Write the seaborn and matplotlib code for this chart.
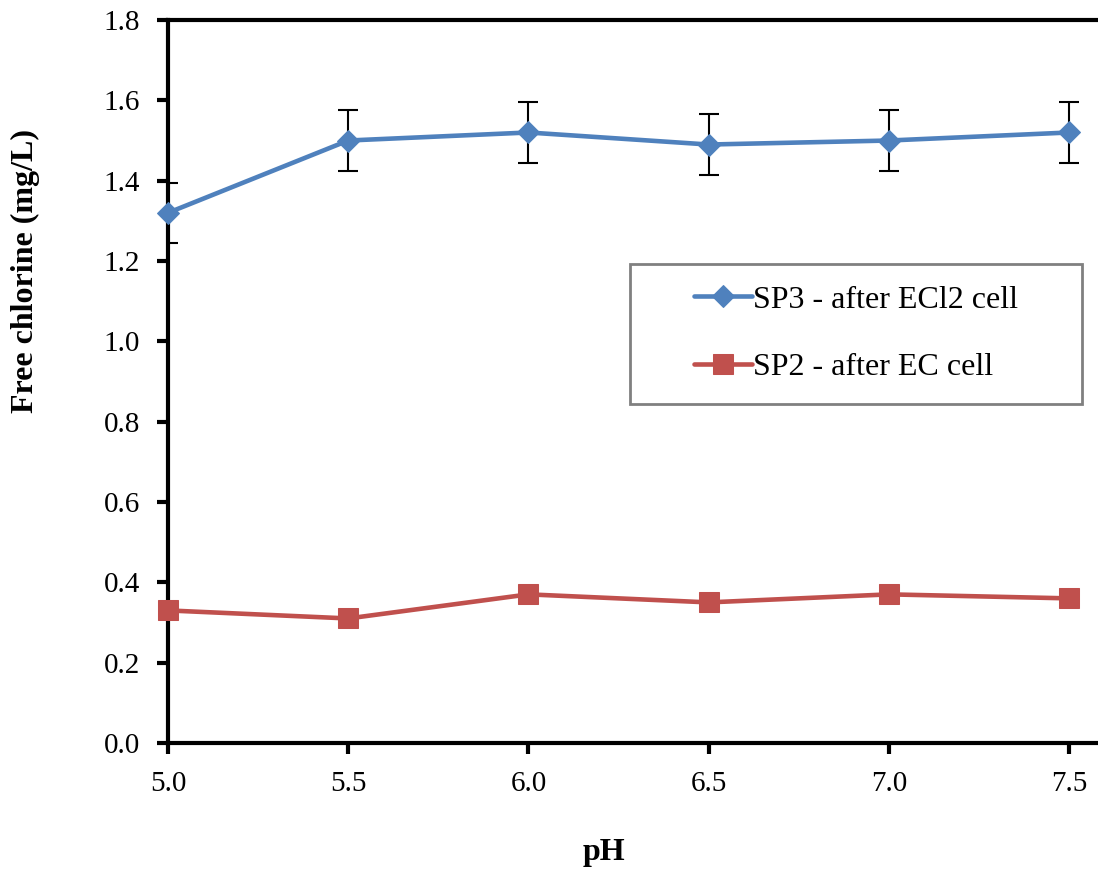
import matplotlib
matplotlib.use("Agg")
import matplotlib.pyplot as plt
import matplotlib.patches as mpatches
import seaborn as sns
import pandas as pd
import numpy as np

ph = [5.0, 5.5, 6.0, 6.5, 7.0, 7.5]
sp3 = [1.32, 1.50, 1.52, 1.49, 1.50, 1.52]
sp3_err = [0.075, 0.075, 0.075, 0.075, 0.075, 0.075]
sp2 = [0.33, 0.31, 0.37, 0.35, 0.37, 0.36]
labels = ["SP3 - after ECl2 cell", "SP2 - after EC cell"]
xticks = [5.0, 5.5, 6.0, 6.5, 7.0, 7.5]
yticks = [0.0, 0.2, 0.4, 0.6, 0.8, 1.0, 1.2, 1.4, 1.6, 1.8]

sns.set_style("white")
plt.rcParams['font.family'] = ['Liberation Serif', 'DejaVu Serif']
plt.rcParams['text.color'] = 'black'
plt.rcParams['axes.labelcolor'] = 'black'
plt.rcParams['xtick.color'] = 'black'
plt.rcParams['ytick.color'] = 'black'

blue = "#4F81BD"
red = "#C0504D"

fig = plt.figure(figsize=(10.98, 8.71), dpi=100)
ax = fig.add_axes([0.153, 0.147, 0.847, 0.830])

df3 = pd.DataFrame({"pH": ph, "val": sp3})
df2 = pd.DataFrame({"pH": ph, "val": sp2})

ax.errorbar(ph, sp3, yerr=sp3_err, fmt="none", ecolor="black", elinewidth=1.5,
            capsize=7.5, capthick=1.5, zorder=2)
sns.lineplot(data=df3, x="pH", y="val", ax=ax, color=blue, lw=3.3, marker="D",
             markersize=11, markeredgecolor=blue, label=labels[0], zorder=3,
             clip_on=False)
sns.lineplot(data=df2, x="pH", y="val", ax=ax, color=red, lw=3.3, marker="s",
             markersize=15, markeredgecolor=red, label=labels[1], zorder=3,
             clip_on=False)

ax.set_xlim(5.0, 7.58)
ax.set_ylim(0, 1.8)
ax.set_xticks(xticks)
ax.set_xticklabels([f"{v:.1f}" for v in xticks])
ax.set_yticks(yticks)
ax.set_yticklabels([f"{v:.1f}" for v in yticks])

for s in ["left", "bottom", "top"]:
    ax.spines[s].set_visible(True)
    ax.spines[s].set_linewidth(3)
    ax.spines[s].set_color("black")
ax.spines["right"].set_visible(False)

ax.tick_params(axis="both", which="major", direction="out", length=8, width=3,
               labelsize=21, color="black", labelcolor="black", pad=12,
               bottom=True, left=True)

ax.set_xlabel("pH", fontsize=23, fontweight="bold")
ax.set_ylabel("Free chlorine (mg/L)", fontsize=23, fontweight="bold")
ax.xaxis.set_label_coords(0.469, -0.131)
ax.yaxis.set_label_coords(-0.1376, 0.653)

box = mpatches.Rectangle((0.497, 0.469), 0.486, 0.194, transform=ax.transAxes,
                         facecolor="white", edgecolor="#808080", lw=2, zorder=4)
ax.add_patch(box)

leg = ax.legend(loc="center", bbox_to_anchor=(0.497 + 0.486 / 2, 0.469 + 0.194 / 2),
                fontsize=23, frameon=False, borderpad=0, labelspacing=1.2,
                handlelength=1.8, handletextpad=0.05, borderaxespad=0)
for t in leg.get_texts():
    t.set_color("black")
leg.set_zorder(5)

fig.savefig("out.png", dpi=100)
